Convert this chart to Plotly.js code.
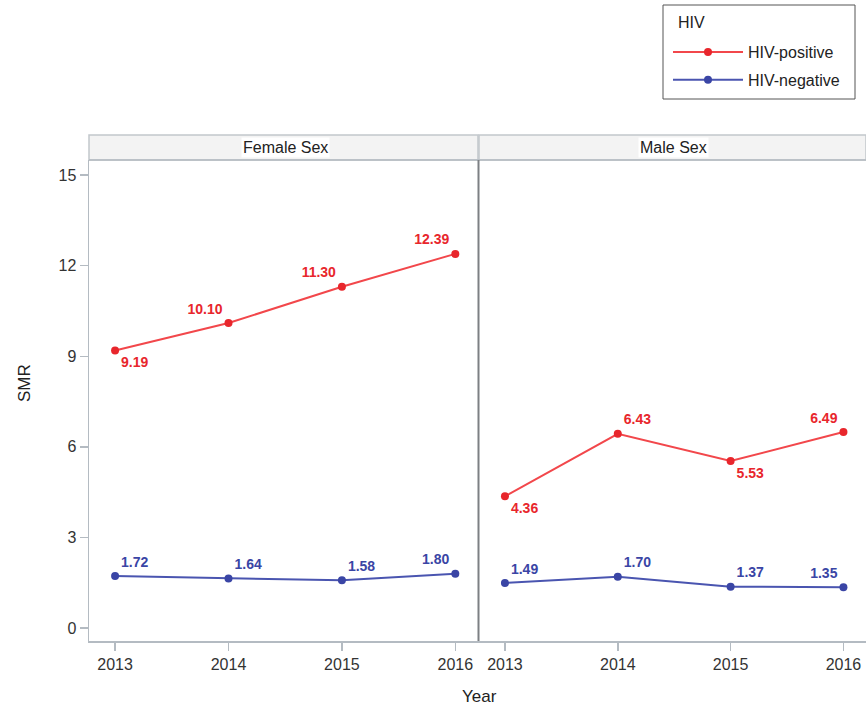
<!DOCTYPE html>
<html>
<head>
<meta charset="utf-8">
<script src="https://cdn.plot.ly/plotly-3.0.1.min.js"></script>
<style>html,body{margin:0;padding:0;background:#fff;}#chart{width:866px;height:705px;}</style>
</head>
<body>
<div id="chart"></div>
<script>
const years = [2013, 2014, 2015, 2016];
const panels = ["Female Sex", "Male Sex"];
const legendTitle = "HIV";
const femalePositive = [9.19, 10.10, 11.30, 12.39];
const femaleNegative = [1.72, 1.64, 1.58, 1.80];
const malePositive = [4.36, 6.43, 5.53, 6.49];
const maleNegative = [1.49, 1.70, 1.37, 1.35];
const yTicks = [0, 3, 6, 9, 12, 15];

const RED_LINE = "#f2474b", RED = "#e8262c";
const BLUE_LINE = "#4a55b0", BLUE = "#3a45a5";
const FONT = "Liberation Sans, Arial";
const fmt = v => v.toFixed(2);

function tr(name, x, y, xa, ya, lc, mc, pos, show) {
  return {
    type: "scatter", mode: "lines+markers+text", name: name,
    x: x, y: y, xaxis: xa, yaxis: ya,
    text: y.map(fmt), textposition: pos,
    textfont: {family: FONT, size: 14, color: mc, weight: "bold"},
    line: {color: lc, width: 2},
    marker: {color: mc, size: 8},
    showlegend: show, legendgroup: name, hoverinfo: "x+y",
    cliponaxis: false
  };
}

const data = [
  tr("HIV-positive", years, femalePositive, "x", "y", RED_LINE, RED,
     ["bottom right", "top left", "top left", "top left"], true),
  tr("HIV-negative", years, femaleNegative, "x", "y", BLUE_LINE, BLUE,
     ["top right", "top right", "top right", "top left"], true),
  tr("HIV-positive", years, malePositive, "x2", "y2", RED_LINE, RED,
     ["bottom right", "top right", "bottom right", "top left"], false),
  tr("HIV-negative", years, maleNegative, "x2", "y2", BLUE_LINE, BLUE,
     ["top right", "top right", "top right", "top left"], false)
];

const W = 866, H = 705;
const px = v => v / W, py = v => 1 - v / H;
const axisCol = "#b4bbc2";
const tickFont = {family: FONT, size: 16, color: "#333"};

const xBase = {
  range: [2012.77, 2016.2], tickvals: years, ticktext: years.map(String),
  ticks: "outside", ticklen: 8, tickcolor: axisCol, tickwidth: 1.5,
  showline: true, linecolor: axisCol, linewidth: 1.5, mirror: false,
  showgrid: false, zeroline: false, tickfont: tickFont, fixedrange: true
};
const yBase = {
  range: [-0.43, 15.5], tickvals: yTicks, ticktext: yTicks.map(String),
  showline: true, linecolor: axisCol, linewidth: 1.5,
  showgrid: false, zeroline: false, tickfont: tickFont, fixedrange: true
};

const plotTop = 160, plotBot = 641;
const ann = (text, x, y, extra) => Object.assign({
  text: text, xref: "paper", yref: "paper", x: px(x), y: py(y), showarrow: false,
  xanchor: "center", yanchor: "middle",
  font: {family: FONT, size: 16, color: "#222"}
}, extra || {});

const layout = {
  width: W, height: H,
  margin: {l: 0, r: 0, t: 0, b: 0},
  paper_bgcolor: "#fff", plot_bgcolor: "#fff",
  font: {family: FONT, color: "#222"},
  xaxis: Object.assign({}, xBase, {domain: [px(89), px(478)], anchor: "y"}),
  xaxis2: Object.assign({}, xBase, {domain: [px(479), 1], anchor: "y2"}),
  yaxis: Object.assign({}, yBase, {domain: [py(plotBot), py(plotTop)], anchor: "x",
    ticks: "outside", ticklen: 8, tickcolor: axisCol, tickwidth: 1.5}),
  yaxis2: Object.assign({}, yBase, {domain: [py(plotBot), py(plotTop)], anchor: "x2",
    matches: "y", showticklabels: false, ticks: ""}),
  showlegend: true,
  legend: {
    x: px(668), y: py(35), xanchor: "left", yanchor: "top",
    bgcolor: "rgba(0,0,0,0)", borderwidth: 0,
    font: {family: FONT, size: 16, color: "#222"},
    itemwidth: 70, tracegroupgap: 4
  },
  shapes: [
    {type: "rect", xref: "paper", yref: "paper", x0: px(663), x1: px(855), y0: py(99), y1: py(5),
     fillcolor: "rgba(0,0,0,0)", line: {color: "#555", width: 1}},
    {type: "rect", xref: "paper", yref: "paper", x0: px(89), x1: px(478), y0: py(plotTop), y1: py(135),
     fillcolor: "#f3f3f3", line: {color: "#c2c7cc", width: 1.5}, layer: "below"},
    {type: "rect", xref: "paper", yref: "paper", x0: px(479), x1: 1, y0: py(plotTop), y1: py(135),
     fillcolor: "#f3f3f3", line: {color: "#c2c7cc", width: 1.5}, layer: "below"},
    {type: "line", xref: "paper", yref: "paper", x0: px(89), x1: 1, y0: py(plotTop), y1: py(plotTop),
     line: {color: axisCol, width: 1.5}},
    {type: "line", xref: "paper", yref: "paper", x0: px(478.5), x1: px(478.5), y0: py(plotBot), y1: py(plotTop),
     line: {color: "#7d8084", width: 2}}
  ],
  annotations: [
    ann(legendTitle, 676, 22, {xanchor: "left"}),
    ann(panels[0], 285, 148, {bgcolor: "#fff", borderpad: 1}),
    ann(panels[1], 673, 148, {bgcolor: "#fff", borderpad: 1}),
    ann("Year", 480, 696, {font: {family: FONT, size: 17, color: "#222"}}),
    ann("SMR", 24, 383, {textangle: -90, font: {family: FONT, size: 17, color: "#222"}})
  ]
};

Plotly.newPlot("chart", data, layout, {displayModeBar: false, staticPlot: true});
</script>
</body>
</html>
